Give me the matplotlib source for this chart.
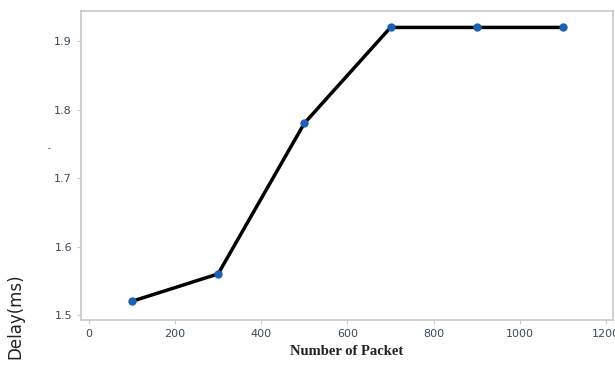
import numpy as np
import matplotlib.pyplot as plt

# packets sent vs. measured delay
packets = [100, 300, 500, 700, 900, 1100]
delay = [1.52, 1.56, 1.78, 1.92, 1.92, 1.92]
xticks = [0, 200, 400, 600, 800, 1000, 1200]
yticks = [1.5, 1.6, 1.7, 1.8, 1.9]

fig = plt.figure(figsize=(6.15, 3.67), dpi=100)
ax = fig.add_axes([81 / 615, 1 - 320 / 367, 532 / 615, 309 / 367])

ax.plot(packets, delay, color='black', lw=2.5, zorder=2)
ax.plot(packets, delay, 'o', color='#1f5fb4', ms=5, zorder=3)

ax.set_xlim(-18, 1216)
ax.set_ylim(1.4927, 1.944)
ax.set_xticks(xticks)
ax.set_yticks(yticks)
ax.set_xticklabels([str(t) for t in xticks])
ax.set_yticklabels(['%.1f' % t for t in yticks])

for s in ax.spines.values():
    s.set_color('#c8c8c8')
    s.set_linewidth(1.2)
ax.tick_params(colors='#c8c8c8', labelcolor='#3a4a5a', labelsize=8, length=3)

ax.set_xlabel('Number of Packet', family='Liberation Serif', fontweight='bold',
              fontsize=10.5, color='#222222', labelpad=4)
fig.text(15 / 615, 1 - 316 / 367, 'Delay(ms)', rotation=90, ha='center', va='center',
         fontsize=12, color='#222222')
fig.text(49 / 615, 1 - 149 / 367, '-', ha='center', va='center', fontsize=6, color='#1f3f7f')

fig.savefig('out.png', dpi=100)
